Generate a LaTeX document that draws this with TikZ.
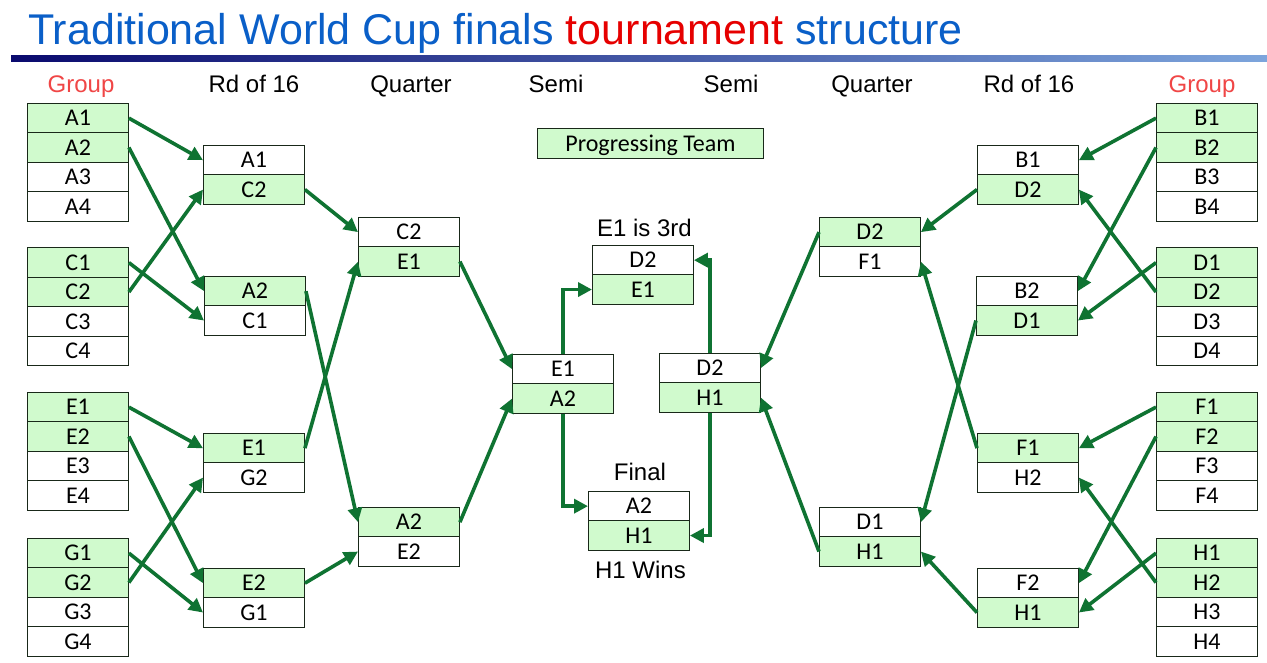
\documentclass[tikz,border=0pt]{standalone}
\usepackage{fontspec}
\setmainfont{Liberation Sans}
\newfontfamily\cellfont{Carlito}
\usetikzlibrary{arrows.meta}
\definecolor{titleblue}{RGB}{10,95,200}
\definecolor{titlered}{RGB}{230,0,0}
\definecolor{grpred}{RGB}{240,70,70}
\definecolor{cellgreen}{RGB}{208,250,205}
\definecolor{arrgreen}{RGB}{15,115,50}
\definecolor{cellborder}{RGB}{25,40,25}
\definecolor{navyline}{RGB}{10,10,110}
\definecolor{lightline}{RGB}{125,165,220}
\begin{document}
\begin{tikzpicture}[x=1pt,y=-1pt,
 cell/.style={draw=cellborder,line width=0.9pt,minimum width=101pt,minimum height=29.4pt,inner sep=0pt,anchor=north west,font=\cellfont\fontsize{24}{24}\selectfont,text height=15.4pt,text depth=0pt},
 win/.style={cell,fill=cellgreen},
 lose/.style={cell,fill=white},
 hdr/.style={font=\fontsize{24}{24}\selectfont,anchor=base,inner sep=0pt},
 conn/.style={draw=arrgreen,line width=3.6pt,-{Triangle[length=14pt,width=14pt]}},
]
\fill[white] (0,0) rectangle (1267,663);
\useasboundingbox (0,0) rectangle (1267,663);

% title and rule
\node[anchor=base west,font=\fontsize{43}{43}\selectfont,inner sep=0pt] (title) at (28,45)
 {\textcolor{titleblue}{Traditional World Cup finals} \textcolor{titlered}{tournament} \textcolor{titleblue}{structure}};
\shade[left color=navyline,right color=lightline] (11,56) rectangle (1267,62);

% headers
\node[hdr,text=grpred] (h1) at (81,93) {Group};
\node[hdr] (h2) at (254,93) {Rd of 16};
\node[hdr] (h3) at (411,93) {Quarter};
\node[hdr] (h4) at (556,93) {Semi};
\node[hdr] (h5) at (731,93) {Semi};
\node[hdr] (h6) at (872,93) {Quarter};
\node[hdr] (h7) at (1029,93) {Rd of 16};
\node[hdr,text=grpred] (h8) at (1202,93) {Group};

% groups
\foreach \g/\t in {A/103,C/247.5,E/392,G/538}{
 \node[win] (\g1) at (27,\t) {\g1};
 \node[win] (\g2) at (27,\t+29.4) {\g2};
 \node[lose] (\g3) at (27,\t+58.8) {\g3};
 \node[lose] (\g4) at (27,\t+88.2) {\g4};
}
\foreach \g/\t in {B/103,D/247.5,F/392,H/538}{
 \node[win] (\g1) at (1156,\t) {\g1};
 \node[win] (\g2) at (1156,\t+29.4) {\g2};
 \node[lose] (\g3) at (1156,\t+58.8) {\g3};
 \node[lose] (\g4) at (1156,\t+88.2) {\g4};
}

% round of 16 left
\node[lose] (L16a1) at (203,145) {A1};
\node[win]  (L16a2) at (203,174.4) {C2};
\node[win]  (L16b1) at (204,276) {A2};
\node[lose] (L16b2) at (204,305.4) {C1};
\node[win]  (L16c1) at (203,433) {E1};
\node[lose] (L16c2) at (203,462.4) {G2};
\node[win]  (L16d1) at (203,568) {E2};
\node[lose] (L16d2) at (203,597.4) {G1};

% quarter left
\node[lose] (LQa1) at (358,217) {C2};
\node[win]  (LQa2) at (358,246.4) {E1};
\node[win]  (LQb1) at (358,507) {A2};
\node[lose] (LQb2) at (358,536.4) {E2};

% semi left
\node[lose] (LS1) at (512,354) {E1};
\node[win]  (LS2) at (512,383.4) {A2};

% third place and final
\node[hdr] (third) at (644.5,237) {E1 is 3rd};
\node[lose] (T1) at (592,245) {D2};
\node[win]  (T2) at (592,274.4) {E1};
\node[hdr] (final) at (640,480) {Final};
\node[lose] (Fin1) at (588,491) {A2};
\node[win]  (Fin2) at (588,520.4) {H1};
\node[hdr] (wins) at (640.5,578) {H1 Wins};

% legend
\node[win,minimum width=226pt,minimum height=30pt] (prog) at (537,128) {Progressing Team};

% semi right
\node[lose] (RS1) at (659,353) {D2};
\node[win]  (RS2) at (659,382.4) {H1};

% quarter right
\node[win]  (RQa1) at (819,217) {D2};
\node[lose] (RQa2) at (819,246.4) {F1};
\node[lose] (RQb1) at (819,507) {D1};
\node[win]  (RQb2) at (819,536.4) {H1};

% round of 16 right
\node[lose] (R16a1) at (977,145) {B1};
\node[win]  (R16a2) at (977,174.4) {D2};
\node[lose] (R16b1) at (976,276) {B2};
\node[win]  (R16b2) at (976,305.4) {D1};
\node[win]  (R16c1) at (977,433) {F1};
\node[lose] (R16c2) at (977,462.4) {H2};
\node[lose] (R16d1) at (977,568) {F2};
\node[win]  (R16d2) at (977,597.4) {H1};

% connectors left
\draw[conn] (A1.east) -- (L16a1.west);
\draw[conn] (A2.east) -- (L16b1.west);
\draw[conn] (C1.east) -- (L16b2.west);
\draw[conn] (C2.east) -- (L16a2.west);
\draw[conn] (E1.east) -- (L16c1.west);
\draw[conn] (E2.east) -- (L16d1.west);
\draw[conn] (G1.east) -- (L16d2.west);
\draw[conn] (G2.east) -- (L16c2.west);
\draw[conn] (L16a2.east) -- (LQa1.west);
\draw[conn] (L16b1.east) -- (LQb1.west);
\draw[conn] (L16c1.east) -- (LQa2.west);
\draw[conn] (L16d1.east) -- (LQb2.west);
\draw[conn] (LQa2.east) -- (LS1.west);
\draw[conn] (LQb1.east) -- (LS2.west);
\draw[conn] (LS1.north) |- (T2.west);
\draw[conn] (LS2.south) |- (Fin1.west);
% connectors right
\draw[conn] (RS1.north) |- (T1.east);
\draw[conn] (RS2.south) |- (Fin2.east);
\draw[conn] (B1.west) -- (R16a1.east);
\draw[conn] (B2.west) -- (R16b1.east);
\draw[conn] (D1.west) -- (R16b2.east);
\draw[conn] (D2.west) -- (R16a2.east);
\draw[conn] (F1.west) -- (R16c1.east);
\draw[conn] (F2.west) -- (R16d1.east);
\draw[conn] (H1.west) -- (R16d2.east);
\draw[conn] (H2.west) -- (R16c2.east);
\draw[conn] (R16a2.west) -- (RQa1.east);
\draw[conn] (R16b2.west) -- (RQb1.east);
\draw[conn] (R16c1.west) -- (RQa2.east);
\draw[conn] (R16d2.west) -- (RQb2.east);
\draw[conn] (RQa1.west) -- (RS1.east);
\draw[conn] (RQb2.west) -- (RS2.east);
\end{tikzpicture}
\end{document}
